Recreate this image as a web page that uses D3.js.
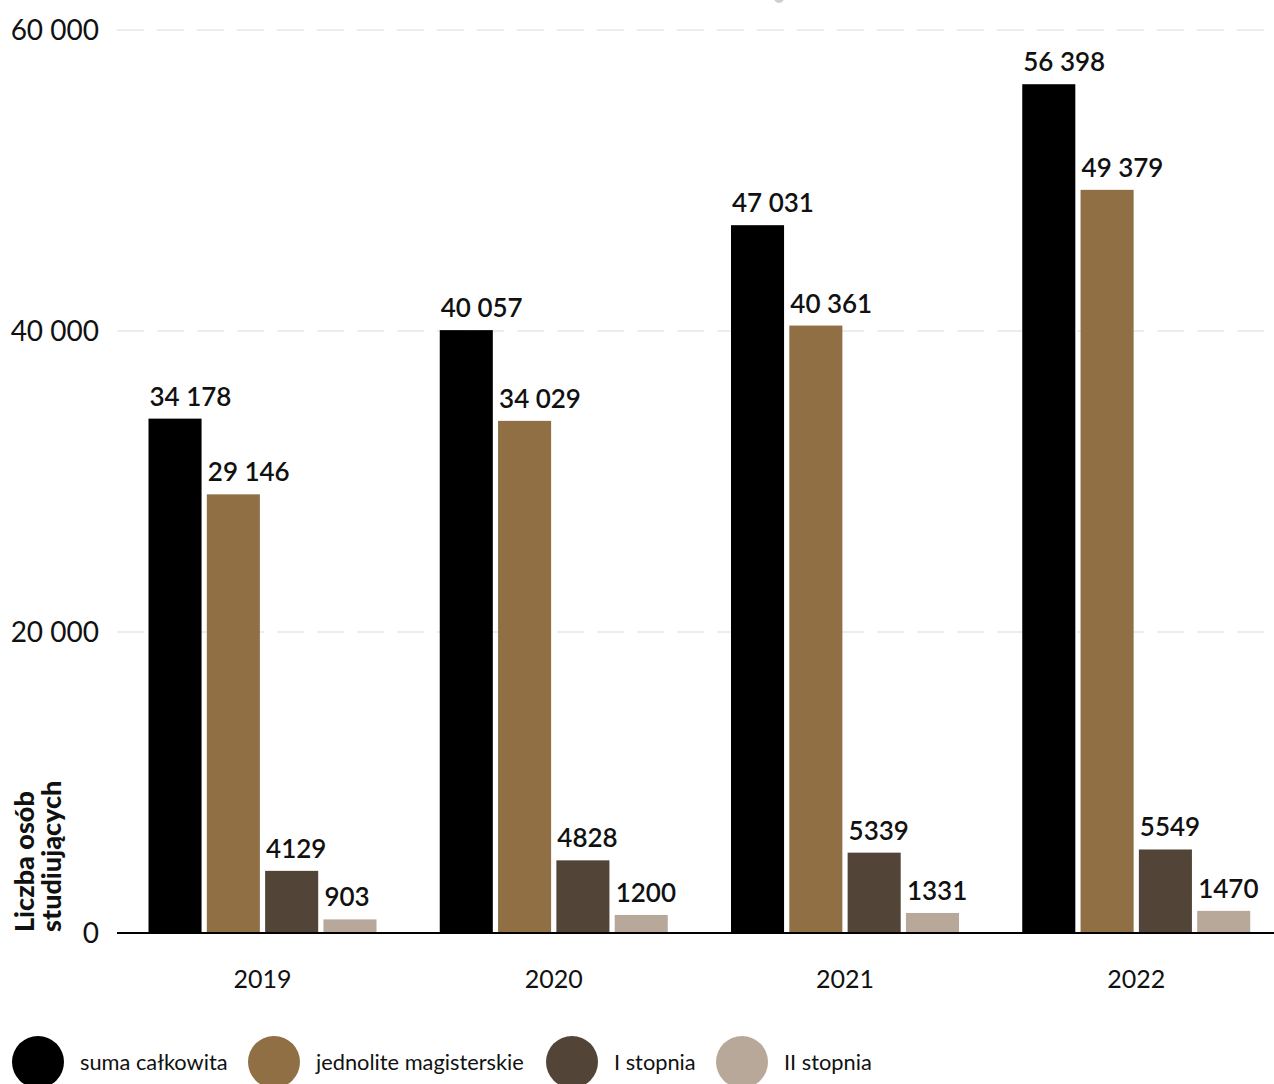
<!DOCTYPE html>
<html><head><meta charset="utf-8">
<script src="https://cdn.jsdelivr.net/npm/d3@7"></script>
<style>
html,body{margin:0;padding:0;background:#fff;}
svg{display:block;font-family:Lato,"Noto Sans",sans-serif;}
</style></head>
<body>
<svg id="c" width="1274" height="1084"></svg>
<script>
const years = ["2019","2020","2021","2022"];
const seriesNames = ["suma całkowita","jednolite magisterskie","I stopnia","II stopnia"];
const suma = [34178, 40057, 47031, 56398];
const jednolite = [29146, 34029, 40361, 49379];
const pierwszy = [4129, 4828, 5339, 5549];
const drugi = [903, 1200, 1331, 1470];
const colors = ["#000000","#8f6f43","#524538","#b8a899"];
const yTicks = [0, 20000, 40000, 60000];
const yTitle = ["Liczba osób","studiujących"];

const seriesValues = [suma, jednolite, pierwszy, drugi];
const fmt = v => v >= 10000 ? d3.format(",")(v).replace(/,/g," ") : String(v);

const svg = d3.select("#c");
const y = d3.scaleLinear().domain([0,60000]).range([933,30]);
const x0 = d3.scaleBand().domain(years).range([117,1282]).padding(0);
const x1 = d3.scaleBand().domain(d3.range(4)).range([31.5,259.5]).paddingInner(0.09);

// gridlines
svg.append("g").selectAll("line").data(yTicks.filter(d=>d>0)).join("line")
  .attr("x1",117).attr("x2",1274).attr("y1",d=>y(d)).attr("y2",d=>y(d))
  .attr("stroke","#dcdcdc").attr("stroke-width",1.2).attr("stroke-dasharray","27,13");

// y tick labels
svg.append("g").selectAll("text").data(yTicks).join("text")
  .attr("x",99).attr("y",d=>y(d)).attr("dy","0.36em").attr("text-anchor","end")
  .attr("font-size",28).attr("fill","#111").text(d=>fmt(d));

// bars
const groups = svg.append("g").selectAll("g").data(years).join("g")
  .attr("transform",d=>`translate(${x0(d)},0)`);
groups.each(function(yr,i){
  const g = d3.select(this);
  const data = seriesValues.map((s,k)=>({k, v:s[i]}));
  g.selectAll("rect").data(data).join("rect")
    .attr("x",d=>x1(d.k)).attr("width",x1.bandwidth())
    .attr("y",d=>y(d.v)).attr("height",d=>y(0)-y(d.v))
    .attr("fill",d=>colors[d.k]);
  g.selectAll("text").data(data).join("text")
    .attr("x",d=>x1(d.k)+1).attr("y",d=>y(d.v)-13)
    .attr("font-size",26).attr("font-weight",600).attr("fill","#111")
    .text(d=>fmt(d.v));
});

// baseline
svg.append("line").attr("x1",117).attr("x2",1274).attr("y1",y(0)).attr("y2",y(0))
  .attr("stroke","#000").attr("stroke-width",2);

// x labels
svg.append("g").selectAll("text").data(years).join("text")
  .attr("x",d=>x0(d)+x0.bandwidth()/2).attr("y",988).attr("text-anchor","middle")
  .attr("font-size",25).attr("fill","#111").text(d=>d);

// y title
const yt = svg.append("text").attr("transform","translate(0,932) rotate(-90)")
  .attr("font-size",27).attr("font-weight",900).attr("fill","#111");
yTitle.forEach((t,i)=>yt.append("tspan").attr("x",0).attr("y",34+i*27).text(t));

// top dot
svg.append("circle").attr("cx",779).attr("cy",-2).attr("r",5).attr("fill","#cfcfcf");

// legend
const legX = [38, 274, 572, 742];
const leg = svg.append("g").selectAll("g").data(seriesNames).join("g")
  .attr("transform",(d,i)=>`translate(${legX[i]},1062)`);
leg.append("circle").attr("r",26).attr("fill",(d,i)=>colors[i]);
leg.append("text").attr("x",42).attr("dy","0.35em").attr("font-size",21.8)
  .attr("fill","#111").text(d=>d);
</script>
</body></html>
